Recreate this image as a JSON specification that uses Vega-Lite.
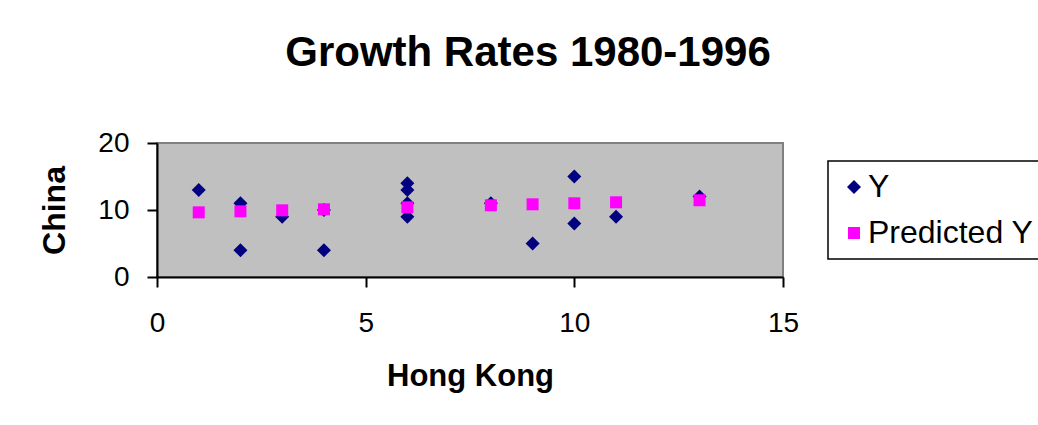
{
  "$schema": "https://vega.github.io/schema/vega-lite/v6.json",
  "width": 626,
  "height": 134,
  "autosize": {"type": "none"},
  "padding": {"left": 157, "top": 143, "right": 255, "bottom": 148},
  "background": "white",
  "title": {
    "text": "Growth Rates 1980-1996",
    "font": "Liberation Sans",
    "fontSize": 42,
    "fontWeight": "bold",
    "color": "black",
    "anchor": "middle",
    "dx": 58,
    "offset": 54
  },
  "data": {
    "values": [
      {"hk": 1, "china": 13, "series": "Y"},
      {"hk": 2, "china": 11, "series": "Y"},
      {"hk": 2, "china": 4, "series": "Y"},
      {"hk": 3, "china": 9, "series": "Y"},
      {"hk": 4, "china": 10, "series": "Y"},
      {"hk": 4, "china": 4, "series": "Y"},
      {"hk": 6, "china": 14, "series": "Y"},
      {"hk": 6, "china": 13, "series": "Y"},
      {"hk": 6, "china": 11, "series": "Y"},
      {"hk": 6, "china": 9, "series": "Y"},
      {"hk": 8, "china": 11, "series": "Y"},
      {"hk": 9, "china": 5, "series": "Y"},
      {"hk": 10, "china": 15, "series": "Y"},
      {"hk": 10, "china": 8, "series": "Y"},
      {"hk": 11, "china": 9, "series": "Y"},
      {"hk": 13, "china": 12, "series": "Y"},
      {"hk": 1, "china": 9.65, "series": "Predicted Y"},
      {"hk": 2, "china": 9.8, "series": "Predicted Y"},
      {"hk": 3, "china": 9.95, "series": "Predicted Y"},
      {"hk": 4, "china": 10.1, "series": "Predicted Y"},
      {"hk": 6, "china": 10.4, "series": "Predicted Y"},
      {"hk": 8, "china": 10.7, "series": "Predicted Y"},
      {"hk": 9, "china": 10.85, "series": "Predicted Y"},
      {"hk": 10, "china": 11.0, "series": "Predicted Y"},
      {"hk": 11, "china": 11.15, "series": "Predicted Y"},
      {"hk": 13, "china": 11.45, "series": "Predicted Y"}
    ]
  },
  "mark": {"type": "point", "filled": true, "opacity": 1, "strokeWidth": 0},
  "encoding": {
    "x": {
      "field": "hk",
      "type": "quantitative",
      "title": "Hong Kong",
      "scale": {"domain": [0, 15], "nice": false, "zero": false},
      "axis": {
        "values": [0, 5, 10, 15],
        "grid": false,
        "domainColor": "black",
        "domainWidth": 2,
        "tickColor": "black",
        "tickWidth": 2,
        "tickSize": 10,
        "labelFont": "Liberation Sans",
        "labelFontSize": 28,
        "labelColor": "black",
        "labelPadding": 22,
        "labelFlush": false,
        "titleFont": "Liberation Sans",
        "titleFontSize": 31,
        "titleFontWeight": "bold",
        "titleColor": "black",
        "titlePadding": 24
      }
    },
    "y": {
      "field": "china",
      "type": "quantitative",
      "title": "China",
      "scale": {"domain": [0, 20], "nice": false, "zero": false},
      "axis": {
        "values": [0, 10, 20],
        "grid": false,
        "domainColor": "black",
        "domainWidth": 2,
        "tickColor": "black",
        "tickWidth": 2,
        "tickSize": 10,
        "labelFont": "Liberation Sans",
        "labelFontSize": 28,
        "labelColor": "black",
        "labelPadding": 18,
        "labelFlush": false,
        "titleFont": "Liberation Sans",
        "titleFontSize": 32,
        "titleFontWeight": "bold",
        "titleColor": "black",
        "titlePadding": 26
      }
    },
    "color": {
      "field": "series",
      "type": "nominal",
      "title": null,
      "sort": ["Y", "Predicted Y"],
      "scale": {"domain": ["Y", "Predicted Y"], "range": ["#000080", "#FF00FF"]},
      "legend": {
        "orient": "none",
        "legendX": 671,
        "legendY": 18,
        "padding": 10,
        "strokeColor": "black",
        "fillColor": "white",
        "labelFont": "Liberation Sans",
        "labelFontSize": 32,
        "labelColor": "black",
        "labelLimit": 400,
        "labelOffset": -2,
        "rowPadding": 14,
        "symbolStrokeWidth": 0
      }
    },
    "shape": {
      "field": "series",
      "type": "nominal",
      "title": null,
      "sort": ["Y", "Predicted Y"],
      "scale": {"domain": ["Y", "Predicted Y"], "range": ["diamond", "square"]}
    },
    "size": {
      "field": "series",
      "type": "nominal",
      "title": null,
      "sort": ["Y", "Predicted Y"],
      "scale": {"domain": ["Y", "Predicted Y"], "range": [196, 144]}
    },
    "order": {"field": "series", "sort": "descending"}
  },
  "config": {
    "view": {"fill": "#C0C0C0", "stroke": "#808080", "strokeWidth": 2},
    "legend": {"strokeWidth": 1.5}
  }
}
